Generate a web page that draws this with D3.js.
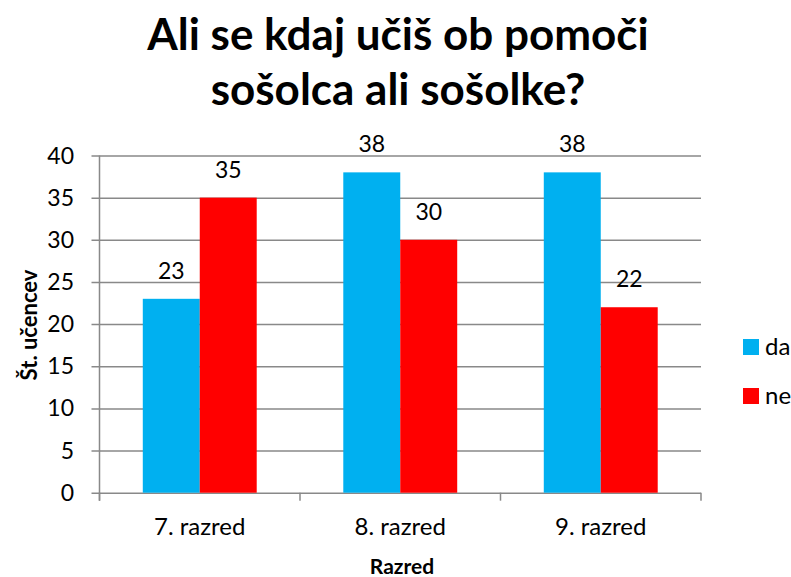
<!DOCTYPE html>
<html>
<head>
<meta charset="utf-8">
<script src="https://cdn.jsdelivr.net/npm/d3@7"></script>
<style>
  body { margin: 0; background: #fff; }
  text { font-family: Lato, "Open Sans", sans-serif; fill: #000; }
</style>
</head>
<body>
<div id="chart"></div>
<script>
const titleLines = ["Ali se kdaj učiš ob pomoči", "sošolca ali sošolke?"];
const categories = ["7. razred", "8. razred", "9. razred"];
const seriesNames = ["da", "ne"];
const daValues = [23, 38, 38];
const neValues = [35, 30, 22];
const yTicks = [0, 5, 10, 15, 20, 25, 30, 35, 40];
const colors = { da: "#00b0f0", ne: "#ff0000" };

const createBarChart = () => {
    const w = 791, h = 577;
    const left = 99.5, right = 701, top = 155.5, bottom = 492.7;
    const svg = d3.select("#chart").append("svg").attr("width", w).attr("height", h);

    const x = d3.scaleBand().domain(categories).range([left, right]);
    const xSub = d3.scaleBand().domain(seriesNames).range([0, x.bandwidth()]).paddingOuter(0.76);
    const y = d3.scaleLinear().domain([0, 40]).range([bottom, top]);
    const grid = "#898989";

    // mřežové čáry + ticky vlevo
    svg.append("g")
        .attr("transform", `translate(${left},0)`)
        .call(d3.axisLeft(y).tickValues(yTicks).tickSize(-(right - left)).tickFormat(""))
        .call(g => g.select(".domain").remove())
        .call(g => g.selectAll("line").attr("stroke", grid).attr("stroke-width", 1.5).attr("x1", -8));

    // popisky osy y
    svg.append("g").selectAll("text")
        .data(yTicks)
        .join("text")
        .attr("x", 74)
        .attr("y", d => y(d))
        .attr("dy", "0.35em")
        .attr("text-anchor", "end")
        .style("font-size", "23px")
        .text(d => d);

    // sloupce
    const rows = categories.map((c, i) => ({ cat: c, vals: [{ s: "da", v: daValues[i] }, { s: "ne", v: neValues[i] }] }));
    const groups = svg.selectAll(".grp")
        .data(rows)
        .join("g")
        .attr("transform", d => `translate(${x(d.cat)},0)`);

    groups.selectAll("rect")
        .data(d => d.vals)
        .join("rect")
        .attr("x", d => xSub(d.s))
        .attr("y", d => y(d.v))
        .attr("width", xSub.bandwidth())
        .attr("height", d => y(0) - y(d.v))
        .attr("fill", d => colors[d.s]);

    groups.selectAll("text")
        .data(d => d.vals)
        .join("text")
        .attr("x", d => xSub(d.s) + xSub.bandwidth() / 2)
        .attr("y", d => y(d.v) - 20)
        .attr("text-anchor", "middle")
        .style("font-size", "23px")
        .text(d => d.v);

    // osy
    svg.append("line")
        .attr("x1", left).attr("x2", left).attr("y1", top).attr("y2", bottom + 8)
        .attr("stroke", grid).attr("stroke-width", 1.5);
    const edges = d3.scaleLinear().domain([0, categories.length]).range([left, right]);
    svg.append("g").selectAll("line")
        .data(d3.range(categories.length + 1))
        .join("line")
        .attr("x1", d => edges(d)).attr("x2", d => edges(d))
        .attr("y1", bottom).attr("y2", bottom + 8)
        .attr("stroke", grid).attr("stroke-width", 1.5);

    // kategorie
    svg.append("g").selectAll("text")
        .data(categories)
        .join("text")
        .attr("x", d => x(d) + x.bandwidth() / 2)
        .attr("y", 535)
        .attr("text-anchor", "middle")
        .style("font-size", "24px")
        .text(d => d);

    // názvy os
    svg.append("text")
        .attr("x", 402).attr("y", 574)
        .attr("text-anchor", "middle")
        .style("font-size", "21px").style("font-weight", "bold")
        .text("Razred");
    svg.append("text")
        .attr("transform", "translate(37,325) rotate(-90)")
        .attr("text-anchor", "middle")
        .style("font-size", "22px").style("font-weight", "bold")
        .text("Št. učencev");

    // titulek
    svg.append("g").selectAll("text")
        .data(titleLines)
        .join("text")
        .attr("x", 398)
        .attr("y", (d, i) => 50 + i * 55)
        .attr("text-anchor", "middle")
        .style("font-size", "44px").style("font-weight", "bold")
        .text(d => d);

    // legenda
    const legend = svg.append("g").selectAll("g")
        .data(seriesNames)
        .join("g")
        .attr("transform", (d, i) => `translate(743,${339 + i * 49})`);
    legend.append("rect").attr("width", 16).attr("height", 16).attr("fill", d => colors[d]);
    legend.append("text").attr("x", 22).attr("y", 8).attr("dy", "0.35em")
        .style("font-size", "24px").text(d => d);
};

createBarChart();
</script>
</body>
</html>
